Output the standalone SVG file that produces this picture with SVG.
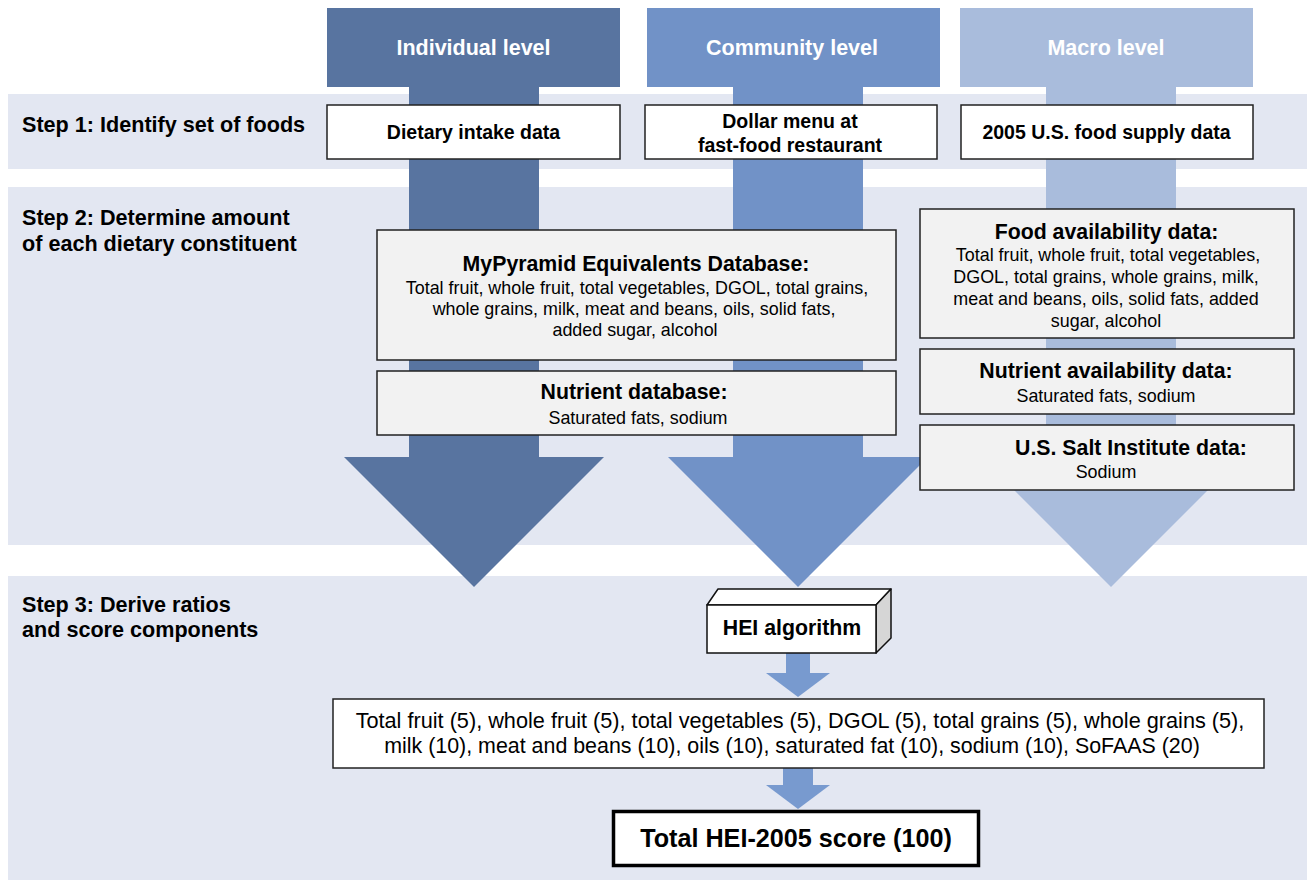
<svg xmlns="http://www.w3.org/2000/svg" width="1311" height="882" viewBox="0 0 1311 882">
<style>
.band{fill:#E3E7F2}
.box{fill:#F2F2F2;stroke:#222;stroke-width:1.5}
.wbox{fill:#FFFFFF;stroke:#222;stroke-width:1.5}
.step{font-family:"Liberation Sans",Arial,sans-serif;font-weight:bold;font-size:21.6px;fill:#000}
.hdr{font-family:"Liberation Sans",Arial,sans-serif;font-weight:bold;font-size:21.5px;fill:#FFFFFF;text-anchor:middle}
.lbl{font-family:"Liberation Sans",Arial,sans-serif;font-weight:bold;font-size:19.5px;fill:#000;text-anchor:middle}
.h{font-family:"Liberation Sans",Arial,sans-serif;font-weight:bold;font-size:21.3px;fill:#000;text-anchor:middle}
.b{font-family:"Liberation Sans",Arial,sans-serif;font-size:17.9px;fill:#000;text-anchor:middle}
.c{font-family:"Liberation Sans",Arial,sans-serif;font-size:21.4px;fill:#000;text-anchor:middle}
.c1{font-size:21.7px}
.ind{fill:#5874A0}
.com{fill:#7192C7}
.mac{fill:#A9BCDC}
.sm{fill:#789ACF}
</style>
<rect width="1311" height="882" fill="#FFFFFF"/>
<g id="bands">
<rect class="band" x="8" y="94" width="1299" height="75"/>
<rect class="band" x="8" y="187" width="1299" height="358"/>
<rect class="band" x="8" y="576" width="1299" height="304"/>
</g>
<g id="step-labels">
<text class="step" x="22" y="132">Step 1: Identify set of foods</text>
<text class="step" x="22" y="225">Step 2: Determine amount</text>
<text class="step" x="22" y="251">of each dietary constituent</text>
<text class="step" x="22" y="612">Step 3: Derive ratios</text>
<text class="step" x="22" y="637">and score components</text>
</g>
<g id="connectors">
<g id="arrow-individual" class="ind">
<rect x="327" y="8" width="293" height="79"/>
<rect x="409" y="86" width="130" height="372"/>
<polygon points="344,457 604,457 474,587"/>
</g>
<g id="arrow-community" class="com">
<rect x="647" y="8" width="293" height="79"/>
<rect x="733" y="86" width="130" height="372"/>
<polygon points="668,457 928,457 798,587"/>
</g>
<g id="arrow-macro" class="mac">
<rect x="960" y="8" width="293" height="79"/>
<rect x="1046" y="86" width="130" height="372"/>
<polygon points="981,457 1241,457 1111,587"/>
</g>
<g id="small-arrow-1" class="sm">
<rect x="786" y="652" width="24" height="22"/>
<polygon points="766,673 830,673 798,697"/>
</g>
<g id="small-arrow-2" class="sm">
<rect x="783" y="768" width="30" height="18"/>
<polygon points="766,785 830,785 798,809"/>
</g>
</g>
<g id="headers">
<text class="hdr" x="473.5" y="55">Individual level</text>
<text class="hdr" x="792" y="55">Community level</text>
<text class="hdr" x="1106" y="55">Macro level</text>
</g>
<g id="dietary-intake">
<rect class="wbox" x="327" y="105" width="293" height="54"/>
<text class="lbl" x="473.5" y="139">Dietary intake data</text>
</g>
<g id="dollar-menu">
<rect class="wbox" x="645" y="105" width="292" height="54"/>
<text class="lbl" x="790" y="128">Dollar menu at</text>
<text class="lbl" x="790" y="152">fast-food restaurant</text>
</g>
<g id="food-supply">
<rect class="wbox" x="961" y="105" width="292" height="54"/>
<text class="lbl" x="1106.5" y="139">2005 U.S. food supply data</text>
</g>
<g id="mypyramid">
<rect class="box" x="377" y="230" width="519" height="130"/>
<text class="h" x="636" y="271">MyPyramid Equivalents Database:</text>
<text class="b" x="637" y="294">Total fruit, whole fruit, total vegetables, DGOL, total grains,</text>
<text class="b" x="634" y="315">whole grains, milk, meat and beans, oils, solid fats,</text>
<text class="b" x="635" y="336">added sugar, alcohol</text>
</g>
<g id="nutrient-database">
<rect class="box" x="377" y="371" width="519" height="64"/>
<text class="h" x="634" y="399">Nutrient database:</text>
<text class="b" x="638" y="424">Saturated fats, sodium</text>
</g>
<g id="food-availability">
<rect class="box" x="920" y="209" width="374" height="129"/>
<text class="h" x="1106.5" y="239">Food availability data:</text>
<text class="b" x="1108" y="261">Total fruit, whole fruit, total vegetables,</text>
<text class="b" x="1106" y="283">DGOL, total grains, whole grains, milk,</text>
<text class="b" x="1106" y="305">meat and beans, oils, solid fats, added</text>
<text class="b" x="1106" y="327">sugar, alcohol</text>
</g>
<g id="nutrient-availability">
<rect class="box" x="920" y="349" width="374" height="65"/>
<text class="h" x="1106" y="378">Nutrient availability data:</text>
<text class="b" x="1106" y="402">Saturated fats, sodium</text>
</g>
<g id="salt-institute">
<rect class="box" x="920" y="425" width="374" height="65"/>
<text class="h" x="1131" y="455">U.S. Salt Institute data:</text>
<text class="b" x="1106" y="478">Sodium</text>
</g>
<g id="hei-algorithm">
<polygon points="707,605 718,589 891,589 876,605" fill="#FFFFFF" stroke="#111" stroke-width="1.5" stroke-linejoin="round"/>
<polygon points="876,605 891,589 891,638 876,653" fill="#D6D6D6" stroke="#111" stroke-width="1.5" stroke-linejoin="round"/>
<rect x="707" y="605" width="169" height="48" fill="#FFFFFF" stroke="#111" stroke-width="1.5"/>
<text class="h" x="792" y="635">HEI algorithm</text>
</g>
<g id="components">
<rect class="wbox" x="333" y="699" width="931" height="69"/>
<text class="c c1" x="800" y="728">Total fruit (5), whole fruit (5), total vegetables (5), DGOL (5), total grains (5), whole grains (5),</text>
<text class="c" x="792" y="753">milk (10), meat and beans (10), oils (10), saturated fat (10), sodium (10), SoFAAS (20)</text>
</g>
<g id="total-score">
<rect x="613.5" y="811.5" width="365" height="54" fill="#FFFFFF" stroke="#000" stroke-width="3.5"/>
<text x="796" y="847" font-family="Liberation Sans, Arial, sans-serif" font-weight="bold" font-size="25.2px" text-anchor="middle" fill="#000">Total HEI-2005 score (100)</text>
</g>
</svg>
